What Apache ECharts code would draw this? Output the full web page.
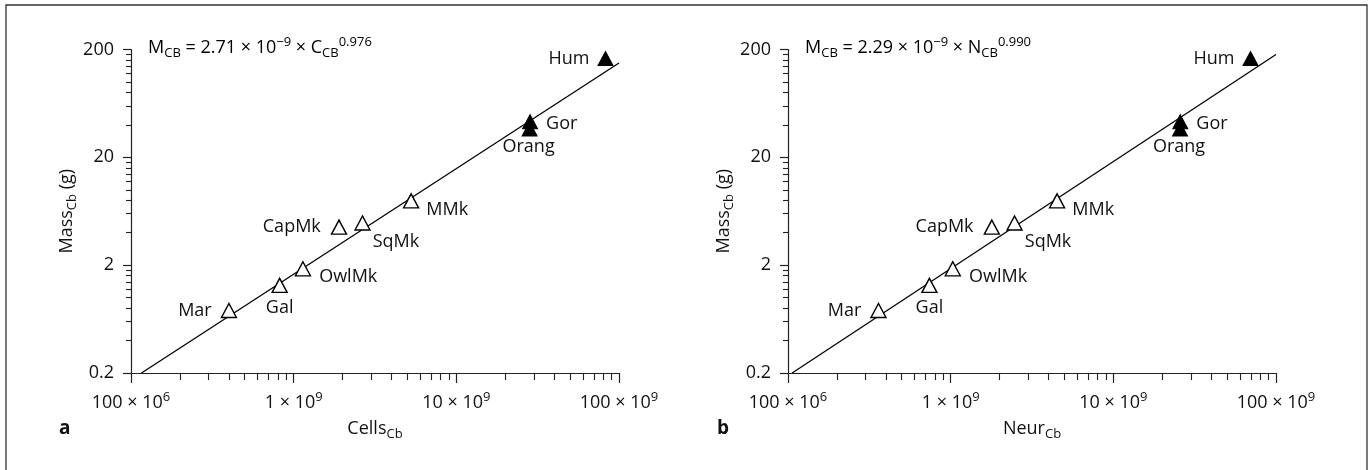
<!DOCTYPE html>
<html><head><meta charset="utf-8">
<script src="https://cdn.jsdelivr.net/npm/echarts@6/dist/echarts.min.js"></script>
<style>html,body{margin:0;padding:0;background:#fff}#c{width:1369px;height:470px}</style>
</head><body><div id="c"></div>
<script>
// ---------- data ----------
const species = ['Mar','Gal','OwlMk','CapMk','SqMk','MMk','Gor','Orang','Hum'];
const cellsCb = [4.0e8, 8.2e8, 1.14e9, 1.90e9, 2.65e9, 5.27e9, 2.84e10, 2.82e10, 8.26e10];
const neurCb  = [3.6e8, 7.4e8, 1.03e9, 1.79e9, 2.47e9, 4.51e9, 2.58e10, 2.57e10, 6.97e10];
const massCb  = [0.76, 1.30, 1.85, 4.51, 4.92, 7.9, 42.8, 36.6, 165];
const filledSpecies = ['Gor','Orang','Hum'];
const fitCellsX = [1.16e8, 1e11];
const fitCellsY = [0.2, 150];
const fitNeurX  = [1.06e8, 1e11];
const fitNeurY  = [0.2, 180];
const xTickValues = [1e8, 1e9, 1e10, 1e11];
const xTickMantissa = ['100', '1', '10', '100'];
const xTickExp = ['6', '9', '9', '9'];
const yTickValues = [0.2, 2, 20, 200];
const yTickLabels = ['0.2', '2', '20', '200'];

// ---------- styling / layout ----------
const FONT = 'Open Sans';
const TXT = '#111';
const AX = '#222';
const labelPlace = {
  Mar:   {position:'left',   distance:9, offset:[0,0]},
  Gal:   {position:'bottom', distance:6, offset:[0,0]},
  OwlMk: {position:'right',  distance:8, offset:[0,8]},
  CapMk: {position:'left',   distance:10, offset:[0,0]},
  SqMk:  {position:'right',  distance:2, offset:[0,19]},
  MMk:   {position:'right',  distance:7, offset:[0,9]},
  Gor:   {position:'right',  distance:8, offset:[0,2]},
  Orang: {position:'bottom', distance:1, offset:[-1,0]},
  Hum:   {position:'left',   distance:8, offset:[0,0]}
};
// minor tick positions (axis decoration)
const minorX = [];
for (let e = 8; e < 11; e++) for (let k = 2; k <= 9; k++) minorX.push(k * Math.pow(10, e));
const minorY = [];
for (let e = -1; e < 2; e++) for (let k = 2; k <= 9; k++) minorY.push(+(2 * k * Math.pow(10, e)).toPrecision(6));

const rich = {
  t: {fontFamily: FONT, fontSize: 18, color: TXT, lineHeight: 24},
  s: {fontFamily: FONT, fontSize: 13, color: TXT, lineHeight: 14, verticalAlign: 'bottom'},
  p: {fontFamily: FONT, fontSize: 13, color: TXT, lineHeight: 10, verticalAlign: 'top'}
};

function nearestIndex(list, v) {
  let best = 0;
  list.forEach((t, i) => { if (Math.abs(Math.log10(t) - Math.log10(v)) < Math.abs(Math.log10(list[best]) - Math.log10(v))) best = i; });
  return best;
}
function xFormatter(v) {
  const i = nearestIndex(xTickValues, v);
  return '{t|' + xTickMantissa[i] + ' × 10}{p|' + xTickExp[i] + '}';
}
function yFormatter(v) {
  return yTickLabels[nearestIndex(yTickValues, v)];
}

const grids = [
  {left: 131, top: 49.5, width: 488, height: 323.5, outerBoundsMode: 'none'},
  {left: 788, top: 49.5, width: 488, height: 323.5, outerBoundsMode: 'none'}
];

function xAxes(gi, nameMain) {
  return [
    {type:'log', logBase:10, gridIndex:gi, position:'bottom', min:1e8, max:1e11,
     axisLine:{onZero:false, lineStyle:{color:AX, width:1.2}},
     axisTick:{length:10, lineStyle:{color:AX, width:1.2}, customValues: xTickValues},
     axisLabel:{margin:18, formatter:xFormatter, rich:rich, customValues: xTickValues},
     splitLine:{show:false}, minorTick:{show:false},
     name: '{t|' + nameMain + '}{s|Cb}', nameLocation:'middle', nameGap:44,
     nameTextStyle:{rich:rich}},
    {type:'log', logBase:10, gridIndex:gi, position:'bottom', min:1e8, max:1e11,
     axisLine:{show:false, onZero:false},
     axisTick:{length:7, lineStyle:{color:AX, width:1.1}, customValues: minorX},
     axisLabel:{show:false}, splitLine:{show:false}}
  ];
}
function yAxes(gi) {
  return [
    {type:'log', logBase:10, gridIndex:gi, position:'left', min:0.2, max:200,
     axisLine:{onZero:false, lineStyle:{color:AX, width:1.2}},
     axisTick:{length:8, lineStyle:{color:AX, width:1.2}, customValues: yTickValues},
     axisLabel:{margin:17, formatter:yFormatter, fontFamily:FONT, fontSize:18, color:TXT, customValues: yTickValues},
     splitLine:{show:false},
     name:'{t|Mass}{s|Cb}{t| (g)}', nameLocation:'middle', nameGap:52, nameRotate:90,
     nameTextStyle:{rich:rich}},
    {type:'log', logBase:10, gridIndex:gi, position:'left', min:0.2, max:200,
     axisLine:{show:false, onZero:false},
     axisTick:{length:5, lineStyle:{color:AX, width:1.1}, customValues: minorY},
     axisLabel:{show:false}, splitLine:{show:false}}
  ];
}

function scatterData(xs) {
  return species.map((name, i) => {
    const filled = filledSpecies.indexOf(name) >= 0;
    const lp = labelPlace[name];
    return {
      name: name,
      value: [xs[i], massCb[i]],
      itemStyle: filled ? {color:'#000', borderColor:'#000', borderWidth:1, opacity:1}
                        : {color:'#fff', borderColor:'#000', borderWidth:1.4, opacity:1},
      label: {show:true, position: lp.position, distance: lp.distance, offset: lp.offset}
    };
  });
}

function panelSeries(xi, yi, xs, fx, fy) {
  return [
    {type:'line', xAxisIndex:xi, yAxisIndex:yi, data: fx.map((x, i) => [x, fy[i]]),
     symbol:'none', lineStyle:{color:'#000', width:1.3}, z:2, silent:true, animation:false},
    {type:'scatter', xAxisIndex:xi, yAxisIndex:yi, data: scatterData(xs),
     symbol:'triangle', symbolSize:[15,14], z:3, animation:false,
     itemStyle:{opacity:1},
     label:{formatter:'{b}', fontFamily:FONT, fontSize:18, color:TXT}}
  ];
}

const option = {
  animation: false,
  backgroundColor: '#fff',
  grid: grids,
  xAxis: [].concat(xAxes(0, 'Cells'), xAxes(1, 'Neur')),
  yAxis: [].concat(yAxes(0), yAxes(1)),
  series: [].concat(
    panelSeries(0, 0, cellsCb, fitCellsX, fitCellsY),
    panelSeries(2, 2, neurCb, fitNeurX, fitNeurY)
  ),
  graphic: [
    {type:'rect', shape:{x:6, y:5, width:1361, height:490}, style:{fill:'none', stroke:'#333', lineWidth:1.3}, silent:true},
    {type:'text', left:148, top:36, style:{text:'{t|M}{s|CB}{t| = 2.71 × 10}{p|−9}{t| × C}{s|CB}{p|0.976}', rich:rich}},
    {type:'text', left:805, top:36, style:{text:'{t|M}{s|CB}{t| = 2.29 × 10}{p|−9}{t| × N}{s|CB}{p|0.990}', rich:rich}},
    {type:'text', left:59, top:419, style:{text:'a', font:'bold 19px "Open Sans"', fill:TXT}},
    {type:'text', left:717, top:419, style:{text:'b', font:'bold 19px "Open Sans"', fill:TXT}}
  ]
};
const chart = echarts.init(document.getElementById('c'), null, {renderer:'canvas'});
chart.setOption(option);
</script>
</body></html>
